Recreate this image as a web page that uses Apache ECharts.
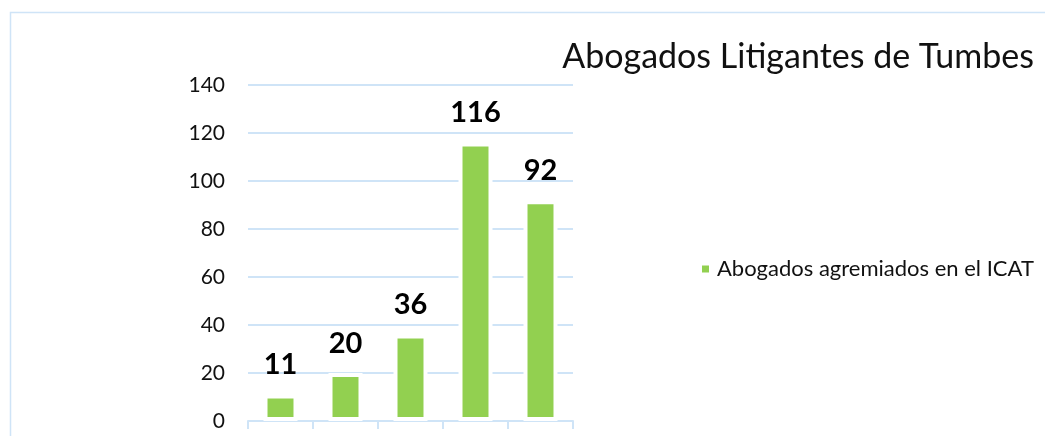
<!DOCTYPE html>
<html>
<head>
<meta charset="utf-8">
<script src="https://cdn.jsdelivr.net/npm/echarts@6/dist/echarts.min.js"></script>
<style>
  html, body { margin: 0; padding: 0; background: #fff; }
  #chart { width: 1045px; height: 436px; }
</style>
</head>
<body>
<div id="chart"></div>
<script>
// datos
const categories = ['1', '2', '3', '4', '5'];
const abogados = [11, 20, 36, 116, 92];
const yTicks = [0, 20, 40, 60, 80, 100, 120, 140];

const seriesName = 'Abogados agremiados en el ICAT';
const titleText = 'Abogados Litigantes de Tumbes';

const lineBlue = '#CFE4F7';
const green = '#92D050';
const font = 'Lato';

let myChart = echarts.init(document.getElementById('chart'));
myChart.setOption({
  animation: false,
  textStyle: { fontFamily: font },
  title: {
    text: titleText,
    right: 6,
    top: 35,
    textStyle: { fontFamily: font, fontSize: 34, fontWeight: 'normal', color: '#111' }
  },
  legend: {
    data: [seriesName],
    left: 695,
    top: 253,
    icon: 'rect',
    itemWidth: 9,
    itemHeight: 9,
    itemGap: 6,
    textStyle: { fontFamily: font, fontSize: 22, color: '#111', padding: [0, 0, 0, 2] }
  },
  grid: { left: 248, right: 472, top: 85, bottom: 15 },
  xAxis: {
    type: 'category',
    data: categories,
    axisLine: { lineStyle: { color: lineBlue, width: 2 } },
    axisTick: { show: true, length: 8, lineStyle: { color: lineBlue, width: 2 } },
    axisLabel: { show: false }
  },
  yAxis: {
    type: 'value',
    min: yTicks[0],
    max: yTicks[yTicks.length - 1],
    interval: 20,
    axisLine: { show: false },
    axisTick: { show: false },
    axisLabel: { fontFamily: font, fontSize: 21, color: '#111', margin: 23 },
    splitLine: { lineStyle: { color: lineBlue, width: 2 } }
  },
  series: [{
    name: seriesName,
    type: 'bar',
    data: abogados,
    barWidth: 34,
    itemStyle: { color: green, borderColor: '#fff', borderWidth: 4 },
    label: {
      show: true,
      position: 'top',
      distance: 15,
      fontFamily: font,
      fontSize: 29,
      fontWeight: 'bold',
      color: '#000'
    }
  }],
  graphic: [{
    type: 'rect',
    shape: { x: 10.5, y: 12.5, width: 1200, height: 600 },
    style: { fill: 'none', stroke: lineBlue, lineWidth: 1.5 },
    silent: true
  }]
});
</script>
</body>
</html>
